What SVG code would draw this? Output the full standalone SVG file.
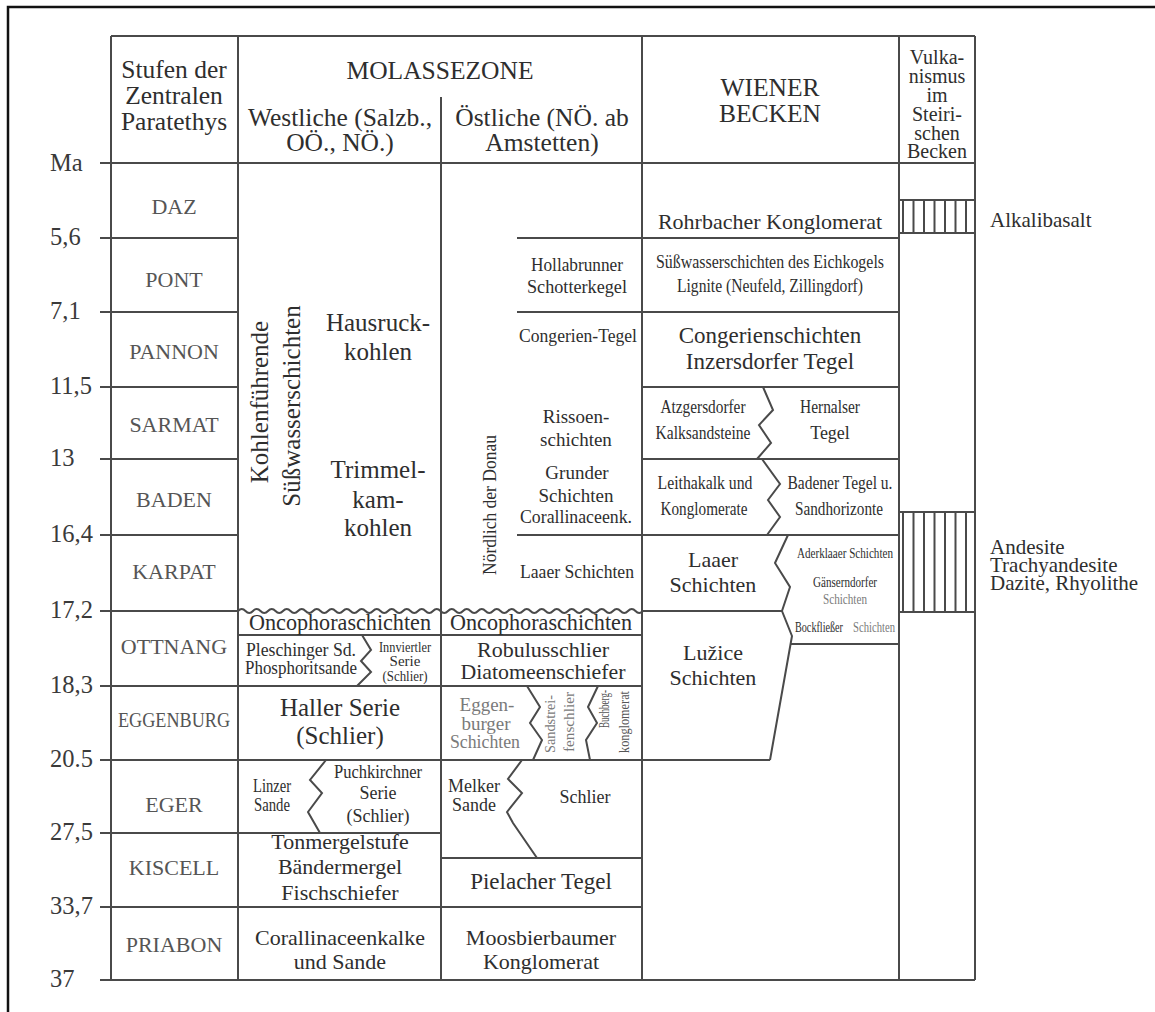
<svg xmlns="http://www.w3.org/2000/svg" width="1155" height="1012" viewBox="0 0 1155 1012">
<style>
text{font-family:"Liberation Serif","DejaVu Serif",serif;fill:#2e2e2e;text-anchor:middle}
.h{font-size:25.5px}
.st{font-size:22px;fill:#555}
.ma{font-size:24.5px;text-anchor:start;fill:#3a3a3a}
.b25{font-size:25px}
.b23{font-size:23px}
.b22{font-size:22px}
.c19{font-size:19px}
.c18{font-size:18px}
.c15{font-size:15px}
.g{fill:#7a7a7a}
.l{text-anchor:start}
.ln{stroke:#4a4a4a;stroke-width:2;fill:none}
</style>
<rect width="1155" height="1012" fill="#fff"/>
<path d="M8,1012 V7 H1155" stroke="#111" stroke-width="2.5" fill="none"/>

<g id="connectors">
<path class="ln" d="M111,36 V980 M238,36 V980 M441,97 V980 M642,36 V980 M899,36 V980 M975,36 V980"/>
<path class="ln" d="M111,36 H975 M100,163 H975 M100,238 H238 M517,238 H899 M100,312 H238 M517,312 H899 M100,387 H238 M642,387 H899 M100,459 H238 M642,459 H899 M100,535 H238 M517,535 H899 M100,611 H238 M642,611 H782 M238,635 H642 M790,644 H899 M100,686 H642 M100,760 H770 M100,833 H441 M441,858 H642 M100,907 H642 M100,980 H975"/>
<path class="ln" d="M238,611 q3.75,-4 7.5,0 t7.5,0 t7.5,0 t7.5,0 t7.5,0 t7.5,0 t7.5,0 t7.5,0 t7.5,0 t7.5,0 t7.5,0 t7.5,0 t7.5,0 t7.5,0 t7.5,0 t7.5,0 t7.5,0 t7.5,0 t7.5,0 t7.5,0 t7.5,0 t7.5,0 t7.5,0 t7.5,0 t7.5,0 t7.5,0 t7.5,0 t7.5,0 t7.5,0 t7.5,0 t7.5,0 t7.5,0 t7.5,0 t7.5,0 t7.5,0 t7.5,0 t7.5,0 t7.5,0 t7.5,0 t7.5,0 t7.5,0 t7.5,0 t7.5,0 t7.5,0 t7.5,0 t7.5,0 t7.5,0 t7.5,0 t7.5,0 t7.5,0 t7.5,0 t7.5,0 t7.5,0 t7.5,0"/>
<path class="ln" stroke-width="1.6" d="M362,635 L371,650 L361,661 L371,672 L357,686"/>
<path class="ln" stroke-width="1.6" d="M326,760 L310,780 L322,793 L308,812 L320,833"/>
<path class="ln" stroke-width="1.6" d="M527,686 L540,707 L530,723 L542,740 L533,760"/>
<path class="ln" stroke-width="1.6" d="M598,686 L588,707 L597,723 L586,740 L590,760"/>
<path class="ln" stroke-width="1.6" d="M522,760 L508,779 L522,793 L507,812 L513,823 L537,858"/>
<path class="ln" stroke-width="1.6" d="M763,387 L773,410 L759,425 L771,443 L757,459"/>
<path class="ln" stroke-width="1.6" d="M762,459 L780,484 L768,500 L780,517 L767,535"/>
<path class="ln" stroke-width="1.8" d="M788,535 L775,563 L790,587 L782,611 L792,636 L770,760"/>
</g>

<g id="axis">
<text class="ma" x="50" y="171">Ma</text>
<text class="ma" x="50" y="245">5,6</text>
<text class="ma" x="50" y="319">7,1</text>
<text class="ma" x="50" y="394">11,5</text>
<text class="ma" x="50" y="466">13</text>
<text class="ma" x="50" y="542">16,4</text>
<text class="ma" x="50" y="618">17,2</text>
<text class="ma" x="50" y="693">18,3</text>
<text class="ma" x="50" y="767">20.5</text>
<text class="ma" x="50" y="840">27,5</text>
<text class="ma" x="50" y="914">33,7</text>
<text class="ma" x="50" y="987">37</text>
</g>

<g id="header">
<text class="h" x="174" y="78">Stufen der</text>
<text class="h" x="174" y="104">Zentralen</text>
<text class="h" x="174" y="130">Paratethys</text>
<text class="h" x="440" y="79">MOLASSEZONE</text>
<text class="h" x="340" y="126">Westliche (Salzb.,</text>
<text class="h" x="340" y="151">OÖ., NÖ.)</text>
<text class="h" x="542" y="126">Östliche (NÖ. ab</text>
<text class="h" x="542" y="151">Amstetten)</text>
<text class="h" x="770" y="96">WIENER</text>
<text class="h" x="770" y="122">BECKEN</text>
<text x="937" y="64" style="font-size:20px">Vulka-</text>
<text x="937" y="83" style="font-size:20px">nismus</text>
<text x="937" y="102" style="font-size:20px">im</text>
<text x="937" y="121" style="font-size:20px">Steiri-</text>
<text x="937" y="140" style="font-size:20px">schen</text>
<text x="937" y="158" style="font-size:20px">Becken</text>
</g>

<g id="stages">
<text class="st" x="174" y="214">DAZ</text>
<text class="st" x="174" y="287">PONT</text>
<text class="st" x="174" y="359">PANNON</text>
<text class="st" x="174" y="432">SARMAT</text>
<text class="st" x="174" y="507">BADEN</text>
<text class="st" x="174" y="579">KARPAT</text>
<text class="st" x="174" y="654">OTTNANG</text>
<text class="st" x="174" y="727" textLength="112" lengthAdjust="spacingAndGlyphs">EGGENBURG</text>
<text class="st" x="174" y="812">EGER</text>
<text class="st" x="174" y="875">KISCELL</text>
<text class="st" x="174" y="952">PRIABON</text>
</g>

<g id="westliche">
<text class="b25" transform="translate(268,402) rotate(-90)">Kohlenführende</text>
<text class="b25" transform="translate(300,406) rotate(-90)">Süßwasserschichten</text>
<text class="b25" x="378" y="331">Hausruck-</text>
<text class="b25" x="378" y="360">kohlen</text>
<text class="b25" x="378" y="478">Trimmel-</text>
<text class="b25" x="378" y="508">kam-</text>
<text class="b25" x="378" y="536">kohlen</text>
<text class="b23" x="340" y="630" textLength="182" lengthAdjust="spacingAndGlyphs">Oncophoraschichten</text>
<text class="c19" x="301" y="656" textLength="110" lengthAdjust="spacingAndGlyphs">Pleschinger Sd.</text>
<text class="c19" x="301" y="674" textLength="112" lengthAdjust="spacingAndGlyphs">Phosphoritsande</text>
<text class="c15" x="405" y="652" textLength="52" lengthAdjust="spacingAndGlyphs">Innviertler</text>
<text class="c15" x="405" y="666">Serie</text>
<text class="c15" x="405" y="681" textLength="45" lengthAdjust="spacingAndGlyphs">(Schlier)</text>
<text class="b25" x="340" y="716">Haller Serie</text>
<text class="b25" x="340" y="744">(Schlier)</text>
<text class="c18" x="272" y="792" textLength="38" lengthAdjust="spacingAndGlyphs">Linzer</text>
<text class="c18" x="272" y="811" textLength="36" lengthAdjust="spacingAndGlyphs">Sande</text>
<text class="c18" x="378" y="778" textLength="88" lengthAdjust="spacingAndGlyphs">Puchkirchner</text>
<text class="c18" x="378" y="799">Serie</text>
<text class="c18" x="378" y="822">(Schlier)</text>
<text class="b22" x="340" y="849">Tonmergelstufe</text>
<text class="b22" x="340" y="874">Bändermergel</text>
<text class="b22" x="340" y="900">Fischschiefer</text>
<text class="b22" x="340" y="945">Corallinaceenkalke</text>
<text class="b22" x="340" y="969">und Sande</text>
</g>

<g id="oestliche">
<text class="c19" transform="translate(496,505) rotate(-90)" textLength="140" lengthAdjust="spacingAndGlyphs">Nördlich der Donau</text>
<text class="c19" x="577" y="271" textLength="92" lengthAdjust="spacingAndGlyphs">Hollabrunner</text>
<text class="c19" x="577" y="293" textLength="100" lengthAdjust="spacingAndGlyphs">Schotterkegel</text>
<text class="c19" x="578" y="342" textLength="118" lengthAdjust="spacingAndGlyphs">Congerien-Tegel</text>
<text class="c19" x="576" y="423">Rissoen-</text>
<text class="c19" x="576" y="446">schichten</text>
<text class="c19" x="577" y="479">Grunder</text>
<text class="c19" x="576" y="502">Schichten</text>
<text class="c19" x="576" y="523" textLength="112" lengthAdjust="spacingAndGlyphs">Corallinaceenk.</text>
<text class="c19" x="577" y="578" textLength="114" lengthAdjust="spacingAndGlyphs">Laaer Schichten</text>
<text class="b23" x="541" y="630" textLength="182" lengthAdjust="spacingAndGlyphs">Oncophoraschichten</text>
<text class="b22" x="543" y="657" textLength="132" lengthAdjust="spacingAndGlyphs">Robulusschlier</text>
<text class="b22" x="543" y="679" textLength="165" lengthAdjust="spacingAndGlyphs">Diatomeenschiefer</text>
<text class="c19 g" x="487" y="711">Eggen-</text>
<text class="c19 g" x="486" y="730">burger</text>
<text class="c19 g" x="485" y="748" textLength="70" lengthAdjust="spacingAndGlyphs">Schichten</text>
<text class="c15 g" transform="translate(555,724) rotate(-90)" textLength="58" lengthAdjust="spacingAndGlyphs">Sandstrei-</text>
<text class="c15 g" transform="translate(574,722) rotate(-90)" textLength="60" lengthAdjust="spacingAndGlyphs">fenschlier</text>
<text class="c15" transform="translate(609,709) rotate(-90)" textLength="38" lengthAdjust="spacingAndGlyphs" style="fill:#555">Buchberg-</text>
<text class="c15" transform="translate(629,722) rotate(-90)" textLength="62" lengthAdjust="spacingAndGlyphs" style="fill:#555">konglomerat</text>
<text class="c18" x="474" y="792">Melker</text>
<text class="c18" x="474" y="811">Sande</text>
<text class="c18" x="585" y="803">Schlier</text>
<text class="b23" x="541" y="889">Pielacher Tegel</text>
<text class="b22" x="541" y="945">Moosbierbaumer</text>
<text class="b22" x="541" y="969">Konglomerat</text>
</g>

<g id="wiener">
<text class="b22" x="770" y="229">Rohrbacher Konglomerat</text>
<text class="c18" x="770" y="268" textLength="228" lengthAdjust="spacingAndGlyphs">Süßwasserschichten des Eichkogels</text>
<text class="c18" x="770" y="292" textLength="186" lengthAdjust="spacingAndGlyphs">Lignite (Neufeld, Zillingdorf)</text>
<text class="b23" x="770" y="343">Congerienschichten</text>
<text class="b23" x="770" y="369">Inzersdorfer Tegel</text>
<text class="c18" x="703" y="413" textLength="85" lengthAdjust="spacingAndGlyphs">Atzgersdorfer</text>
<text class="c18" x="703" y="439" textLength="95" lengthAdjust="spacingAndGlyphs">Kalksandsteine</text>
<text class="c18" x="830" y="413" textLength="60" lengthAdjust="spacingAndGlyphs">Hernalser</text>
<text class="c18" x="830" y="439">Tegel</text>
<text class="c18" x="705" y="489" textLength="95" lengthAdjust="spacingAndGlyphs">Leithakalk und</text>
<text class="c18" x="704" y="515" textLength="87" lengthAdjust="spacingAndGlyphs">Konglomerate</text>
<text class="c18" x="840" y="489" textLength="105" lengthAdjust="spacingAndGlyphs">Badener Tegel u.</text>
<text class="c18" x="839" y="515" textLength="88" lengthAdjust="spacingAndGlyphs">Sandhorizonte</text>
<text class="b22" x="713" y="567">Laaer</text>
<text class="b22" x="713" y="592">Schichten</text>
<text class="c15" x="845" y="558" textLength="96" lengthAdjust="spacingAndGlyphs">Aderklaaer Schichten</text>
<text class="c15" x="845" y="587" textLength="64" lengthAdjust="spacingAndGlyphs">Gänserndorfer</text>
<text class="c15 g" x="845" y="604" textLength="44" lengthAdjust="spacingAndGlyphs">Schichten</text>
<text class="c15" x="819" y="632" textLength="48" lengthAdjust="spacingAndGlyphs">Bockfließer</text>
<text class="c15 g" x="874" y="632" textLength="42" lengthAdjust="spacingAndGlyphs">Schichten</text>
<text class="b22" x="713" y="660">Lužice</text>
<text class="b22" x="713" y="685">Schichten</text>
</g>

<g id="vulkanismus">
<path class="ln" stroke-width="1.6" d="M899,200 H975 M899,233 H975 M903,200 V233 M913.5,200 V233 M924,200 V233 M934.5,200 V233 M945,200 V233 M955.5,200 V233 M966,200 V233"/>
<path class="ln" stroke-width="1.6" d="M899,512 H975 M899,612 H975 M903,512 V612 M913.5,512 V612 M924,512 V612 M934.5,512 V612 M945,512 V612 M955.5,512 V612 M966,512 V612"/>
<text x="990" y="227" class="l" style="font-size:21px">Alkalibasalt</text>
<text x="990" y="554" class="l" style="font-size:21px">Andesite</text>
<text x="990" y="572" class="l" style="font-size:21px">Trachyandesite</text>
<text x="990" y="590" class="l" style="font-size:21px">Dazite, Rhyolithe</text>
</g>
</svg>
